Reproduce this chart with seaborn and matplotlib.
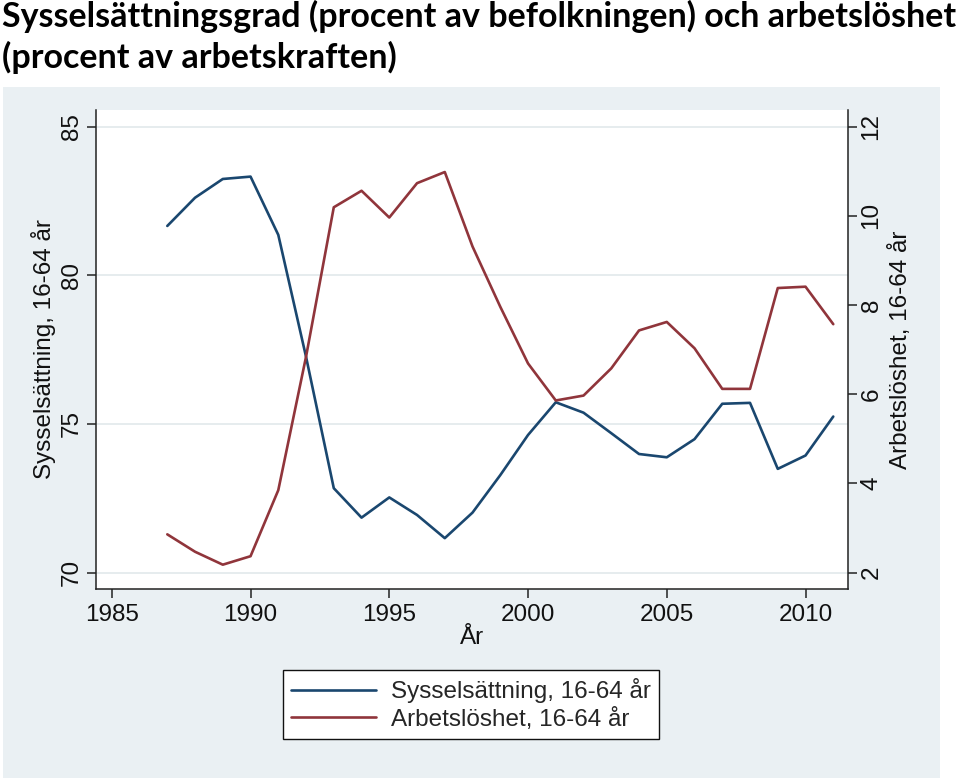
import matplotlib
matplotlib.use("Agg")
import matplotlib.pyplot as plt
import seaborn as sns
import pandas as pd
from matplotlib.patches import Rectangle

years = list(range(1987, 2012))
sysselsattning = [81.66, 82.61, 83.24, 83.32, 81.36, 77.26, 72.84, 71.85, 72.53, 71.94,
                  71.16, 72.02, 73.28, 74.63, 75.73, 75.38, 74.69, 73.99, 73.88, 74.49,
                  75.68, 75.71, 73.49, 73.94, 75.25]
arbetsloshet = [2.86, 2.47, 2.18, 2.37, 3.85, 6.84, 10.19, 10.56, 9.96, 10.73,
                10.98, 9.31, 7.96, 6.69, 5.86, 5.97, 6.58, 7.43, 7.62, 7.03,
                6.12, 6.12, 8.38, 8.41, 7.57]
x_ticks = [1985, 1990, 1995, 2000, 2005, 2010]
left_ticks = [70, 75, 80, 85]
right_ticks = [2, 4, 6, 8, 10, 12]

title_text = "Sysselsättningsgrad (procent av befolkningen) och arbetslöshet\n(procent av arbetskraften)"
lab_syss = "Sysselsättning, 16-64 år"
lab_arb = "Arbetslöshet, 16-64 år"
xlabel = "År"

df = pd.DataFrame({"År": years, lab_syss: sysselsattning, lab_arb: arbetsloshet})

sns.set_theme(style="white")
plt.rcParams['font.family'] = ['Liberation Sans', 'DejaVu Sans']

W, H = 960, 778
fig = plt.figure(figsize=(W / 100, H / 100), dpi=100, facecolor="white")

# Stata-like light panel
fig.patches.append(Rectangle((3 / W, 0), (940 - 3) / W, (H - 86.5) / H,
                             transform=fig.transFigure, facecolor="#eaf0f3",
                             edgecolor="none", zorder=-10))

NAVY = "#1a476f"
MAROON = "#90353b"

ax = fig.add_axes([95.7 / W, 1 - 589 / H, (847.7 - 95.7) / W, (589 - 110) / H])
ax.set_facecolor("white")
ax2 = ax.twinx()

sns.lineplot(data=df, x="År", y=lab_syss, ax=ax, color=NAVY, lw=1.9, label=lab_syss, legend=False)
sns.lineplot(data=df, x="År", y=lab_arb, ax=ax2, color=MAROON, lw=1.9, label=lab_arb, legend=False)

ax.set_xlim(1984.42, 2011.52)
ax.set_ylim(69.45, 85.56)
ax2.set_ylim(1.635, 12.37)

ax.set_xticks(x_ticks)
ax.set_yticks(left_ticks)
ax2.set_yticks(right_ticks)

ax.yaxis.grid(True, color="#e1e9eb", lw=1.2)
ax.set_axisbelow(True)

for a in (ax, ax2):
    a.spines["top"].set_visible(False)
ax.spines["right"].set_visible(False)
ax2.spines["left"].set_visible(False)
ax2.spines["bottom"].set_visible(False)
for a, sides in ((ax, ("left", "bottom")), (ax2, ("right",))):
    for s in sides:
        a.spines[s].set_color("#222222")
        a.spines[s].set_linewidth(1.1)

tick_kw = dict(direction="out", length=6.5, width=1.1, color="#222222", labelsize=17.5, labelcolor="#111111")
ax.tick_params(axis="x", bottom=True, pad=4, **tick_kw)
ax.tick_params(axis="y", left=True, pad=3, **tick_kw)
ax2.tick_params(axis="y", right=True, pad=2.8, **tick_kw)
for lbl in ax.get_yticklabels():
    lbl.set_rotation(90)
    lbl.set_va("center")
for lbl in ax2.get_yticklabels():
    lbl.set_rotation(90)
    lbl.set_va("center")
    lbl.set_ha("left")

ax.set_xlabel(xlabel, fontsize=17.5, color="#111111", labelpad=1)
ax.set_ylabel(lab_syss, fontsize=17.5, color="#111111", labelpad=3)
ax2.set_ylabel(lab_arb, fontsize=17.5, color="#111111")
ax2.yaxis.set_label_coords((889.5 - 95.7) / 752, 0.5)

lines = ax.get_lines() + ax2.get_lines()
leg = fig.legend(handles=[lines[0], lines[-1]], labels=[lab_syss, lab_arb],
                 loc="center", bbox_to_anchor=(471 / W, 1 - 704.5 / H),
                 fontsize=17.5, frameon=True, fancybox=False, edgecolor="#111111",
                 facecolor="white", framealpha=1, handlelength=3.5, handletextpad=0.6,
                 borderpad=0.35, labelspacing=0.2)
leg.get_frame().set_linewidth(1.0)

t = fig.text(2 / W, 1 - 0 / H, title_text, ha="left", va="top",
             fontsize=25, fontweight="bold", family=["Lato", "DejaVu Sans"],
             linespacing=1.3, color="black")
fig.canvas.draw()
bb = t.get_window_extent()
t.set_fontsize(25 * 953 / bb.width)

fig.savefig("out.png", dpi=100, facecolor="white")
